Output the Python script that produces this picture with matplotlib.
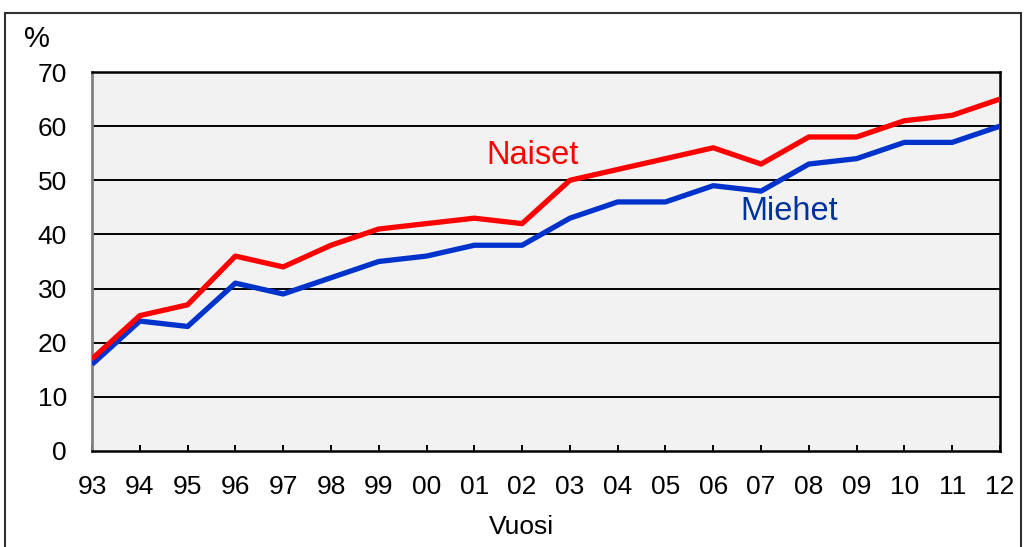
import matplotlib.pyplot as plt
from matplotlib.patches import Rectangle

plt.rcParams['font.family'] = ['Liberation Sans', 'DejaVu Sans']

years = ["93", "94", "95", "96", "97", "98", "99", "00", "01", "02",
         "03", "04", "05", "06", "07", "08", "09", "10", "11", "12"]
naiset = [17, 25, 27, 36, 34, 38, 41, 42, 43, 42,
          50, 52, 54, 56, 53, 58, 58, 61, 62, 65]
miehet = [16, 24, 23, 31, 29, 32, 35, 36, 38, 38,
          43, 46, 46, 49, 48, 53, 54, 57, 57, 60]
yticks = [0, 10, 20, 30, 40, 50, 60, 70]

fig = plt.figure(figsize=(10.29, 5.47), dpi=100)
ax = fig.add_axes([92/1029, 96/547, 908/1029, 379/547])
ax.set_facecolor('#f2f2f2')

x = list(range(len(years)))
for yv in yticks[1:-1]:
    ax.axhline(yv, color='black', lw=1.4, zorder=1)
ax.plot(x, miehet, color='#0033cc', lw=3.8, zorder=3, solid_capstyle='butt')
ax.plot(x, naiset, color='#ff0000', lw=3.8, zorder=3, solid_capstyle='butt')

ax.set_xlim(0, len(years) - 1)
ax.set_ylim(0, 70)
ax.set_xticks(x)
ax.set_xticklabels(years, fontsize=19)
ax.set_yticks(yticks)
ax.set_yticklabels([str(v) for v in yticks], fontsize=19)
ax.tick_params(axis='x', direction='in', length=4.5, width=1.4, pad=17)
ax.tick_params(axis='y', length=0, pad=18)

for side in ['top', 'right', 'bottom']:
    ax.spines[side].set_color('black')
    ax.spines[side].set_linewidth(1.8)
ax.spines['left'].set_color('#808080')
ax.spines['left'].set_linewidth(2)

ax.text(8.26, 54.5, 'Naiset', color='#ff0000', fontsize=23.5, ha='left', va='center')
ax.text(13.56, 44.3, 'Miehet', color='#003399', fontsize=23.5, ha='left', va='center')

fig.text(24/1029, 1 - 39/547, '%', fontsize=21, ha='left', va='center')
fig.text(521/1029, 1 - 527/547, 'Vuosi', fontsize=19, ha='center', va='center')

fig.patches.append(Rectangle((5/1029, -0.05), 1016/1029, 1.05 - 13/547,
                             transform=fig.transFigure, fill=False,
                             edgecolor='#303030', lw=1.5))

fig.savefig('out.png', dpi=100)
